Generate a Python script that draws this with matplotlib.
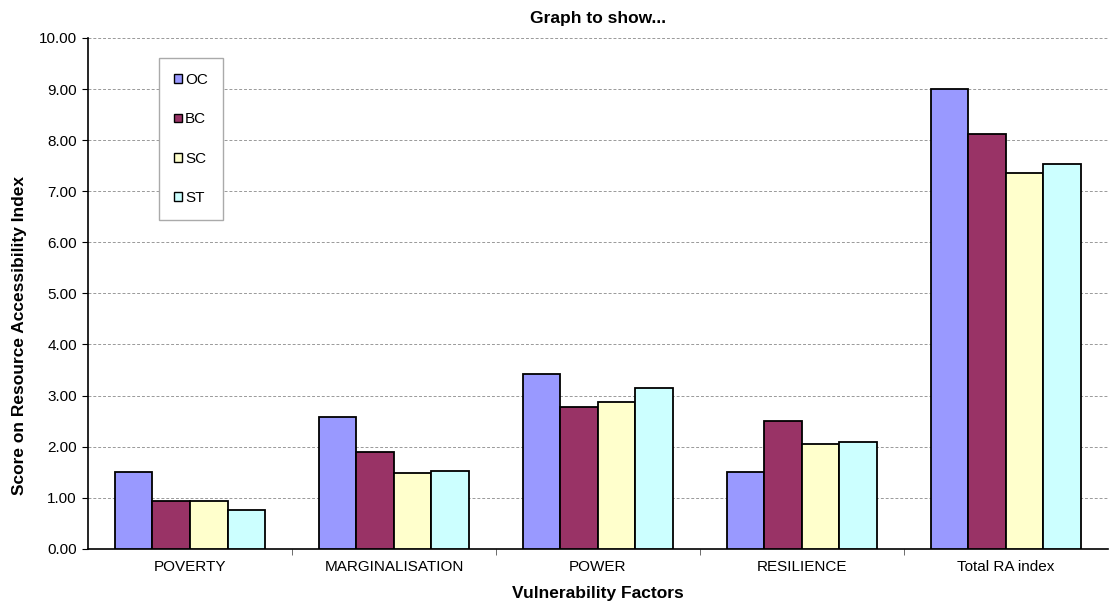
import matplotlib.pyplot as plt
import numpy as np
from matplotlib.patches import Patch

plt.rcParams['font.family'] = ['Liberation Sans', 'DejaVu Sans']

categories = ['POVERTY', 'MARGINALISATION', 'POWER', 'RESILIENCE', 'Total RA index']
series = ['OC', 'BC', 'SC', 'ST']
oc = [1.50, 2.58, 3.42, 1.50, 9.00]
bc = [0.93, 1.89, 2.78, 2.50, 8.12]
sc = [0.93, 1.48, 2.88, 2.06, 7.36]
st = [0.76, 1.53, 3.15, 2.09, 7.54]
colors = ['#9999FF', '#993366', '#FFFFCC', '#CCFFFF']

fig = plt.figure(figsize=(11.10, 6.03), dpi=100)
ax = fig.add_axes([0.0793, 0.090, 0.9187, 0.847])

x = np.arange(len(categories))
width = 0.184
for i, (vals, c) in enumerate(zip([oc, bc, sc, st], colors)):
    ax.bar(x + (i - 1.5) * width, vals, width, color=c, edgecolor='black',
           linewidth=1.3, zorder=3)

ax.set_xlim(-0.5, len(categories) - 0.5)
ax.set_ylim(0, 10)
ax.set_yticks(np.arange(0, 10.01, 1))
ax.set_yticklabels(['%.2f' % v for v in np.arange(0, 10.01, 1)], fontsize=11)
ax.yaxis.grid(True, linestyle=(0, (3, 2)), color='#999999', linewidth=0.7, zorder=0)

ax.set_xticks(x)
ax.set_xticklabels(categories, fontsize=11)
ax.tick_params(axis='x', length=0, pad=8)
ax.set_xticks(np.arange(0.5, len(categories) - 0.5, 1), minor=True)
ax.tick_params(axis='x', which='minor', length=4, direction='out', color='#555555')
ax.tick_params(axis='y', length=4, direction='out', pad=4)

for s in ['top', 'right']:
    ax.spines[s].set_visible(False)
ax.spines['left'].set_linewidth(1.2)
ax.spines['bottom'].set_linewidth(1.2)

ax.set_title('Graph to show...', fontsize=12.5, fontweight='bold', pad=11)
ax.set_xlabel('Vulnerability Factors', fontsize=12.5, fontweight='bold', labelpad=9)
ax.set_ylabel('Score on Resource Accessibility Index', fontsize=12.5, fontweight='bold')
ax.yaxis.set_label_coords(-0.060, 0.418)

handles = [Patch(facecolor=c, edgecolor='black', linewidth=1) for c in colors]
leg = ax.legend(handles, series, loc='upper left', bbox_to_anchor=(0.0696, 0.961),
                fontsize=11, handlelength=0.5, handleheight=0.5, handletextpad=0.2,
                labelspacing=1.65, borderpad=1.0, fancybox=False, framealpha=1,
                edgecolor='#AAAAAA', borderaxespad=0)
leg.get_frame().set_linewidth(1)

plt.savefig('out.png', dpi=100)
